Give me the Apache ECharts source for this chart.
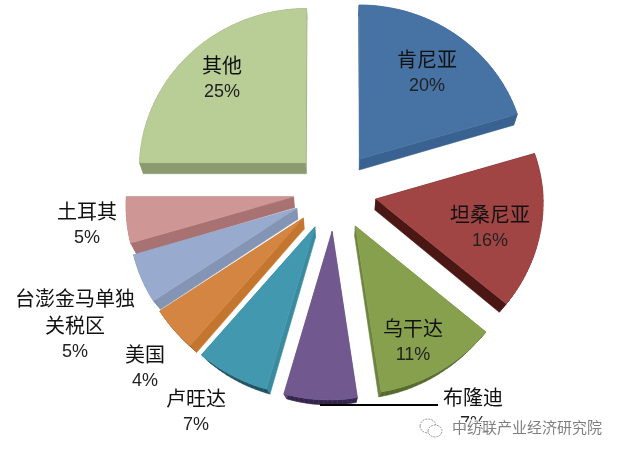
<!DOCTYPE html>
<html><head><meta charset="utf-8">
<style>html,body{margin:0;padding:0;background:#fff}#c{width:620px;height:455px}</style>
<script src="https://cdn.jsdelivr.net/npm/echarts@6/dist/echarts.min.js"></script>
</head><body><div id="c"></div>
<script>
// data
const categories = ['肯尼亚','坦桑尼亚','乌干达','布隆迪','卢旺达','美国','台澎金马单独\n关税区','土耳其','其他'];
const shares = [20.4,15.6,11.4,6.8,6.9,4.4,4.9,4.6,25];
// styles
const topColors  = ['#4672a4','#a14544','#87a04d','#71588f','#4298ae','#d48542','#98abce','#ce9695','#b9cd96'];
const wallColors = ['#3a6290','#4a1715','#6d8440','#5f4a7a','#3a8aa0','#c4762f','#8494b4','#a87272','#8c9a70'];
const rimColors  = ['#3a6290','#7c2f2d','#55682c','#33254a','#1c4f5e','#9a5c25','#7d8dab','#a87272','#8c9a70'];
// where each label sits, centre x / first line y
const labelAnchors = [[427,59],[490,214],[413,328],[473,397],[196,398],[145,354],[75,298],[87,211],[222,65]];
// projection of the tilted pie
const CX=335, CY=191, RX=167, RY=160.7, P=0.031, EXPLODE=0.25, SHEAR=3;
function project(X,Y){const s=1/(1-P*Y);return [CX+X*s*RX-SHEAR*Math.max(0,Y), CY+Y*s*RY];}
function depthAt(Y){const t=Math.max(0,Math.min(1,(Y-0.3)/0.9));return 11-6*t;}
function lower(X,Y){const p=project(X,Y);const k=0.02+0.03*Math.max(0,Y);return [p[0]+(CX-p[0])*k,p[1]+depthAt(Y)];}
const total=shares.reduce((a,b)=>a+b,0);
function sliceShapes(i){
  let start=0; for(let k=0;k<i;k++) start+=shares[k];
  const a0=start/total*2*Math.PI, a1=(start+shares[i])/total*2*Math.PI, am=(a0+a1)/2;
  const ox=EXPLODE*Math.sin(am), oy=-EXPLODE*Math.cos(am);
  const world=[[ox,oy]];
  const n=Math.max(6,Math.ceil((a1-a0)/0.03));
  for(let k=0;k<=n;k++){const a=a0+(a1-a0)*k/n;world.push([ox+Math.sin(a),oy-Math.cos(a)]);}
  const children=[]; const N=world.length; const z=Math.round((oy+1)*10);
  for(let k=0;k<N;k++){
    const p=world[k], q=world[(k+1)%N];
    const isRadial=(k===0||k===N-1);
    children.push({type:'polygon',z2:z,shape:{points:[project(p[0],p[1]),project(q[0],q[1]),lower(q[0],q[1]),lower(p[0],p[1])]},
      style:{fill:isRadial?wallColors[i]:rimColors[i],stroke:isRadial?wallColors[i]:rimColors[i],lineWidth:0.5}});
  }
  children.push({type:'polygon',z2:z+1,shape:{points:world.map(w=>project(w[0],w[1]))},style:{fill:topColors[i],stroke:topColors[i],lineWidth:0.5}});
  return children;
}
const CJK='"Noto Sans CJK SC","Liberation Sans",sans-serif';
const chart=echarts.init(document.getElementById('c'),null,{renderer:'canvas'});
chart.setOption({
  animation:false,
  series:[
   {type:'custom',coordinateSystem:'none',silent:true,z:1,data:shares,
    renderItem:(params)=>({type:'group',children:sliceShapes(params.dataIndex)})},
   {type:'custom',coordinateSystem:'none',silent:true,z:2,data:shares,
    renderItem:(params)=>{
      const i=params.dataIndex,[x,y]=labelAnchors[i];
      const lines=categories[i].split('\n');
      const kids=lines.map((t,k)=>({type:'text',style:{text:t,x:x,y:y+k*27,align:'center',verticalAlign:'middle',font:'20px '+CJK,fill:'#111'}}));
      kids.push({type:'text',style:{text:Math.round(shares[i]/total*100)+'%',x:x,y:y+lines.length*27,align:'center',verticalAlign:'middle',font:'18px "Liberation Sans",sans-serif',fill:'#222'}});
      return {type:'group',children:kids};
    }}
  ],
  graphic:[
   {type:'line',z:5,shape:{x1:320,y1:405,x2:438,y2:405},style:{stroke:'#000',lineWidth:2}},
   {type:'ellipse',z:6,shape:{cx:428,cy:426,rx:8,ry:7},style:{fill:'#fff',stroke:'#999',lineWidth:1,lineDash:[2,1]}},
   {type:'ellipse',z:6,shape:{cx:435,cy:431,rx:7,ry:6},style:{fill:'#fff',stroke:'#999',lineWidth:1,lineDash:[2,1]}},
   {type:'text',z:7,style:{text:'中纺联产业经济研究院',x:527,y:427,align:'center',verticalAlign:'middle',font:'15px '+CJK,fill:'#808080',stroke:'#fff',lineWidth:2}}
  ]
});
</script></body></html>
